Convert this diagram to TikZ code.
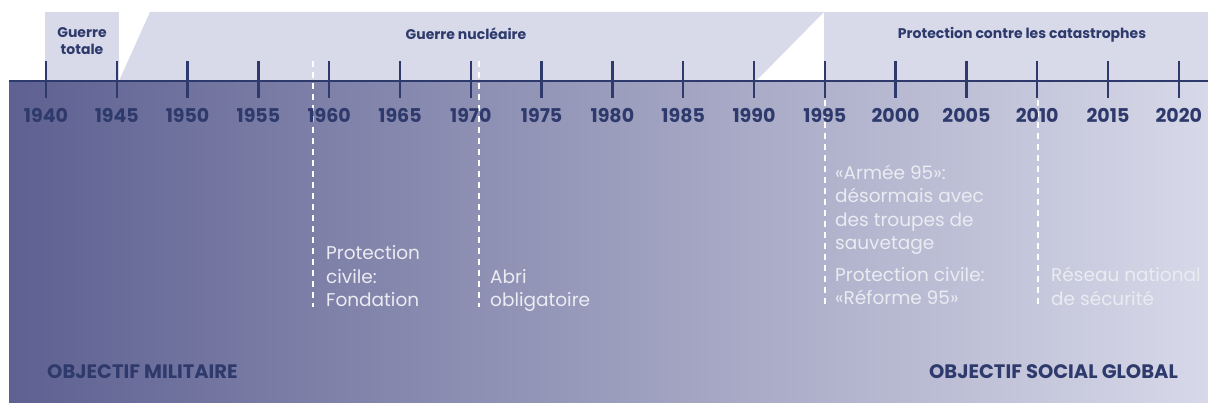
\documentclass[tikz,border=0pt]{standalone}
\usepackage{fontspec}
\setmainfont{Poppins}
\definecolor{navy}{HTML}{2E3A6C}
\definecolor{bandc}{HTML}{D8DAEA}
\definecolor{gradL}{HTML}{5E6191}
\definecolor{gradR}{HTML}{D7D8E8}
\definecolor{pale}{HTML}{EBEBF2}
\tikzset{
  yearlabel/.style={font=\fontsize{19}{19}\selectfont\bfseries, text=navy, anchor=base, inner sep=0pt},
  bandtitle/.style={font=\fontsize{14}{17}\selectfont\bfseries, text=navy, align=center, inner sep=0pt},
  note/.style={font=\fontsize{18.5}{23.5}\selectfont, text=pale, align=left, anchor=base west, inner sep=0pt},
  goal/.style={font=\fontsize{19.5}{19.5}\selectfont\bfseries, text=navy, inner sep=0pt},
  dashline/.style={draw=white, line width=1.6pt, dash pattern=on 6pt off 5pt},
  tickmark/.style={draw=navy, line width=2.5pt},
}
\begin{document}
\begin{tikzpicture}[x=1pt,y=-1pt]
\useasboundingbox (0,0) rectangle (1208,403);
% bands
\fill[bandc] (45,12) rectangle (119,81);
\fill[bandc] (119,81) -- (150,12) -- (824,12) -- (756,81) -- cycle;
\fill[bandc] (824,12) rectangle (1208,81);
% gradient body
\shade[left color=gradL, right color=gradR] (9,81) rectangle (1208,403);
% dashed lines
\coordinate (d1a) at (313,61); \coordinate (d1b) at (313,307);
\coordinate (d2a) at (479,61); \coordinate (d2b) at (479,307);
\coordinate (d3a) at (825,100); \coordinate (d3b) at (825,307);
\coordinate (d4a) at (1038,100); \coordinate (d4b) at (1038,307);
\draw[dashline] (d1a) -- (d1b);
\draw[dashline] (d2a) -- (d2b);
\draw[dashline] (d3a) -- (d3b);
\draw[dashline] (d4a) -- (d4b);
% axis
\draw[draw=navy, line width=2.5pt] (9,81) -- (1208,81);
\foreach \i [evaluate=\i as \yr using int(1940+5*\i)] in {0,...,16} {
  \draw[tickmark] ({46+70.8*\i},61) -- ({46+70.8*\i},98);
  \node[yearlabel] (y\yr) at ({46+70.8*\i},123) {\yr};
}
% band titles (base = last line)
\node[bandtitle, anchor=base] (gt) at (82,55) {Guerre\\totale};
\node[bandtitle, anchor=base] (gn) at (466,40) {Guerre nucléaire};
\node[bandtitle, anchor=base] (pc) at (1022,39) {Protection contre les catastrophes};
% notes (base = last line)
\node[note] (n1) at (326,307) {Protection\\civile:\\Fondation};
\node[note] (n2) at (490,307) {Abri\\obligatoire};
\node[note] (n3) at (835,250) {«Armée 95»:\\désormais avec\\des troupes de\\sauvetage};
\node[note] (n4) at (835,305) {Protection civile:\\«Réforme 95»};
\node[note] (n5) at (1051,305.5) {Réseau national\\de sécurité};
% goals
\node[goal, anchor=base west] (gm) at (47,378) {OBJECTIF MILITAIRE};
\node[goal, anchor=base east] (gs) at (1178,378) {OBJECTIF SOCIAL GLOBAL};
\end{tikzpicture}
\end{document}
